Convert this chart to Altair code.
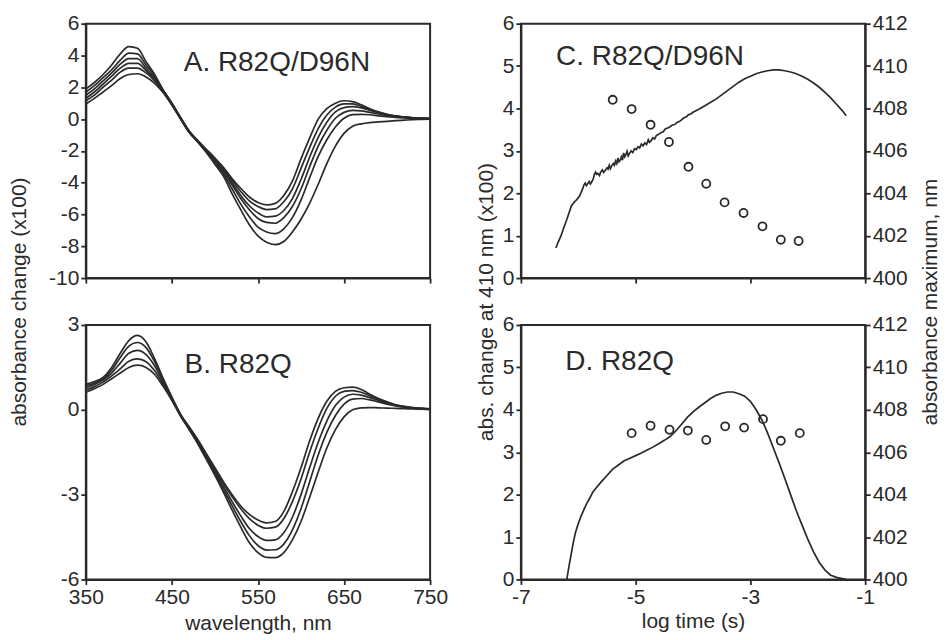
import altair as alt
import pandas as pd

FONT = "Liberation Sans"
INK = "#2a2a2a"

# ---------------- Panels A and B: difference spectra ----------------
wavelengths = [350, 360, 370, 380, 390, 400, 410, 420, 430, 440, 450, 460, 470, 480,
               490, 500, 510, 520, 530, 540, 550, 560, 570, 580, 590, 600, 610, 620,
               630, 640, 650, 660, 670, 680, 690, 700, 710, 720, 730, 740, 750]

spectra_A = [
    [1.9, 2.3, 2.8, 3.4, 4.1, 4.55, 4.45, 3.6, 2.8, 1.8, 1.0, 0.1, -0.75, -1.35, -1.9, -2.45, -3.05, -3.75, -4.35, -4.9, -5.25, -5.4, -5.3, -4.8, -3.9, -2.5, -1.2, 0.0, 0.65, 1.0, 1.15, 1.1, 0.9, 0.65, 0.45, 0.3, 0.2, 0.12, 0.08, 0.05, 0.03],
    [1.7, 2.1, 2.6, 3.1, 3.7, 4.15, 4.1, 3.4, 2.7, 1.8, 1.0, 0.1, -0.75, -1.35, -1.95, -2.5, -3.1, -3.85, -4.55, -5.15, -5.5, -5.7, -5.65, -5.2, -4.4, -3.1, -1.8, -0.6, 0.25, 0.75, 0.95, 0.95, 0.8, 0.6, 0.42, 0.28, 0.18, 0.12, 0.08, 0.05, 0.03],
    [1.5, 1.9, 2.4, 2.9, 3.45, 3.8, 3.8, 3.2, 2.6, 1.78, 0.95, 0.08, -0.78, -1.38, -2.0, -2.6, -3.2, -4.0, -4.8, -5.45, -5.9, -6.15, -6.1, -5.75, -5.0, -3.8, -2.4, -1.15, -0.2, 0.45, 0.72, 0.78, 0.7, 0.55, 0.4, 0.27, 0.18, 0.12, 0.08, 0.05, 0.03],
    [1.3, 1.7, 2.2, 2.7, 3.2, 3.5, 3.5, 3.05, 2.5, 1.75, 0.92, 0.05, -0.8, -1.4, -2.02, -2.65, -3.3, -4.15, -5.0, -5.7, -6.25, -6.5, -6.55, -6.2, -5.5, -4.4, -3.0, -1.7, -0.7, 0.05, 0.42, 0.55, 0.52, 0.42, 0.32, 0.22, 0.15, 0.1, 0.07, 0.04, 0.03],
    [1.15, 1.5, 2.0, 2.45, 2.95, 3.2, 3.2, 2.9, 2.4, 1.7, 0.9, 0.03, -0.82, -1.42, -2.05, -2.75, -3.45, -4.4, -5.35, -6.15, -6.8, -7.1, -7.2, -6.9, -6.2, -5.1, -3.7, -2.35, -1.3, -0.5, 0.05, 0.28, 0.3, 0.27, 0.2, 0.15, 0.1, 0.07, 0.05, 0.03, 0.02],
    [0.95, 1.3, 1.7, 2.1, 2.55, 2.8, 2.85, 2.65, 2.25, 1.65, 0.88, 0.0, -0.85, -1.45, -2.1, -2.85, -3.6, -4.7, -5.7, -6.65, -7.35, -7.75, -7.9, -7.7, -7.1, -6.3, -5.3, -4.1, -2.8, -1.7, -0.9, -0.45, -0.3, -0.22, -0.18, -0.14, -0.1, -0.07, -0.04, -0.02, 0.0],
]

spectra_B = [
    [0.9, 1.0, 1.15, 1.5, 2.0, 2.45, 2.63, 2.4, 1.8, 1.1, 0.45, -0.15, -0.6, -1.05, -1.55, -2.05, -2.55, -3.0, -3.4, -3.7, -3.9, -4.0, -3.95, -3.6, -2.9, -2.05, -1.1, -0.3, 0.3, 0.65, 0.78, 0.8, 0.72, 0.55, 0.4, 0.28, 0.18, 0.12, 0.08, 0.05, 0.03],
    [0.85, 0.95, 1.1, 1.4, 1.85, 2.25, 2.38, 2.2, 1.7, 1.05, 0.42, -0.17, -0.62, -1.08, -1.6, -2.1, -2.62, -3.08, -3.5, -3.85, -4.08, -4.19, -4.15, -3.85, -3.25, -2.45, -1.5, -0.65, 0.05, 0.48, 0.65, 0.68, 0.62, 0.5, 0.37, 0.26, 0.17, 0.11, 0.07, 0.05, 0.03],
    [0.78, 0.9, 1.05, 1.3, 1.65, 2.0, 2.1, 1.95, 1.55, 0.98, 0.4, -0.18, -0.65, -1.12, -1.65, -2.18, -2.72, -3.25, -3.75, -4.2, -4.48, -4.62, -4.6, -4.35, -3.8, -3.0, -2.05, -1.15, -0.4, 0.15, 0.45, 0.55, 0.52, 0.43, 0.33, 0.24, 0.16, 0.1, 0.07, 0.04, 0.03],
    [0.7, 0.82, 0.98, 1.2, 1.45, 1.72, 1.8, 1.7, 1.38, 0.9, 0.37, -0.2, -0.68, -1.16, -1.7, -2.25, -2.82, -3.4, -3.95, -4.45, -4.8, -4.96, -4.95, -4.75, -4.25, -3.5, -2.55, -1.6, -0.8, -0.2, 0.2, 0.38, 0.4, 0.35, 0.28, 0.2, 0.14, 0.09, 0.06, 0.04, 0.02],
    [0.62, 0.75, 0.9, 1.1, 1.3, 1.5, 1.58, 1.5, 1.25, 0.82, 0.33, -0.22, -0.7, -1.2, -1.75, -2.32, -2.92, -3.55, -4.15, -4.7, -5.05, -5.22, -5.23, -5.05, -4.6, -3.95, -3.1, -2.2, -1.35, -0.7, -0.25, 0.0, 0.07, 0.08, 0.07, 0.06, 0.05, 0.04, 0.03, 0.02, 0.01],
]

wl_ticks = [350, 450, 550, 650, 750]
a_ticks = [-10, -8, -6, -4, -2, 0, 2, 4, 6]
b_ticks = [-6, -3, 0, 3]

# ---------------- Panels C and D: kinetics ----------------
c_time = [-6.39, -6.35, -6.30, -6.25, -6.20, -6.15, -6.12, -6.09, -6.07, -6.04, -6.01,
          -5.98, -5.95, -5.92, -5.90, -5.88, -5.86, -5.84, -5.81, -5.79, -5.77, -5.74,
          -5.72, -5.70, -5.68, -5.66, -5.63, -5.61, -5.58, -5.56, -5.53, -5.50, -5.48,
          -5.46, -5.44, -5.42, -5.39, -5.37, -5.35, -5.33, -5.31, -5.29, -5.27, -5.25,
          -5.23, -5.21, -5.19, -5.17, -5.15, -5.13, -5.11, -5.08, -5.05, -5.02, -4.99,
          -4.96, -4.93, -4.90, -4.87, -4.84, -4.81, -4.78, -4.76, -4.73, -4.70, -4.67,
          -4.64, -4.60, -4.56, -4.52, -4.48, -4.44, -4.40, -4.36, -4.32, -4.28, -4.24,
          -4.20, -4.16, -4.12, -4.08, -4.04, -4.00, -3.9, -3.8, -3.7, -3.6, -3.5, -3.4,
          -3.3, -3.2, -3.1, -3.0, -2.9, -2.8, -2.7, -2.6, -2.5, -2.4, -2.3, -2.2, -2.1,
          -2.0, -1.9, -1.8, -1.7, -1.6, -1.5, -1.4, -1.33]
c_abs = [0.71, 0.85, 1.0, 1.2, 1.38, 1.58, 1.70, 1.76, 1.79, 1.83, 1.88,
         1.93, 2.02, 2.12, 2.20, 2.24, 2.18, 2.22, 2.28, 2.22, 2.26, 2.33,
         2.44, 2.50, 2.45, 2.47, 2.42, 2.50, 2.55, 2.49, 2.54, 2.60, 2.57,
         2.66, 2.58, 2.64, 2.70, 2.66, 2.76, 2.70, 2.83, 2.74, 2.78, 2.86,
         2.78, 2.95, 2.86, 2.91, 2.99, 2.88, 2.93, 3.00, 2.96, 3.05, 3.03,
         3.10, 3.07, 3.16, 3.12, 3.19, 3.15, 3.26, 3.20, 3.24, 3.31, 3.28,
         3.36, 3.39, 3.43, 3.45, 3.52, 3.54, 3.57, 3.61, 3.62, 3.67, 3.69,
         3.73, 3.78, 3.80, 3.85, 3.87, 3.91, 3.98, 4.06, 4.14, 4.22, 4.32, 4.42,
         4.52, 4.62, 4.70, 4.76, 4.82, 4.86, 4.89, 4.91, 4.91, 4.89, 4.86, 4.82, 4.76,
         4.69, 4.60, 4.50, 4.38, 4.25, 4.10, 3.95, 3.83]
c_pt_time = [-5.40, -5.07, -4.74, -4.42, -4.08, -3.77, -3.45, -3.12, -2.79, -2.47, -2.16]
c_pt_max = [408.41, 407.97, 407.23, 406.42, 405.25, 404.45, 403.57, 403.07, 402.44, 401.81, 401.75]

d_time = [-6.2, -6.17, -6.13, -6.09, -6.05, -6.0, -5.95, -5.9, -5.85, -5.8, -5.75, -5.7,
          -5.6, -5.5, -5.4, -5.3, -5.2, -5.1, -5.0, -4.9, -4.8, -4.7, -4.6, -4.5, -4.4,
          -4.3, -4.2, -4.1, -4.0, -3.9, -3.8, -3.7, -3.6, -3.5, -3.4, -3.3, -3.2, -3.1,
          -3.0, -2.9, -2.8, -2.7, -2.6, -2.5, -2.4, -2.3, -2.2, -2.1, -2.0, -1.9, -1.8,
          -1.7, -1.6, -1.5, -1.4, -1.33]
d_abs = [0.0, 0.25, 0.55, 0.85, 1.1, 1.32, 1.5, 1.65, 1.8, 1.92, 2.05, 2.14,
         2.3, 2.45, 2.6, 2.7, 2.8, 2.86, 2.92, 2.98, 3.05, 3.12, 3.2, 3.28, 3.37,
         3.5, 3.66, 3.82, 3.95, 4.06, 4.16, 4.26, 4.34, 4.39, 4.42, 4.42, 4.38, 4.32,
         4.2, 4.0, 3.76, 3.45, 3.1, 2.75, 2.38, 2.0, 1.62, 1.28, 0.95, 0.65, 0.4,
         0.22, 0.1, 0.05, 0.02, 0.0]
d_pt_time = [-5.07, -4.74, -4.41, -4.09, -3.77, -3.44, -3.11, -2.78, -2.47, -2.14]
d_pt_max = [406.90, 407.25, 407.06, 407.02, 406.58, 407.22, 407.16, 407.56, 406.54, 406.90]

t_ticks = [-7, -5, -3, -1]
abs_ticks = [0, 1, 2, 3, 4, 5, 6]
max_ticks = [400, 402, 404, 406, 408, 410, 412]

panel_labels = ["A. R82Q/D96N", "B. R82Q", "C. R82Q/D96N", "D. R82Q"]
label_x = [572, 527, -4.75, -5.28]
label_y = [3.5, 1.6, 5.22, 5.13]

W, H = 345, 255
LABEL_SIZE = 28
HYPHEN = "'' + datum.value"


def spectra_panel(curves, ydom, yticks, idx, bottom, ytitle):
    rows = []
    for i, c in enumerate(curves):
        for w, v in zip(wavelengths, c):
            rows.append({"wl": w, "v": v, "curve": i})
    df = pd.DataFrame(rows)
    xaxis_kw = dict(values=wl_ticks, labels=bottom, labelFlush=False, labelExpr=HYPHEN,
                    labelOverlap=False)
    if bottom:
        xaxis_kw.update(title="wavelength, nm", titlePadding=5)
    else:
        xaxis_kw.update(title=None)
    yaxis_kw = dict(values=yticks, labelExpr=HYPHEN, labelOverlap=False, labelSeparation=0)
    if ytitle:
        yaxis_kw.update(title=ytitle, titleX=-66, titleY=278.5, titleAngle=270,
                        titleBaseline="middle", titleAlign="center")
    else:
        yaxis_kw.update(title=None)
    xs = alt.Scale(domain=[350, 750], nice=False, zero=False)
    ys = alt.Scale(domain=ydom, nice=False, zero=False)
    lines = alt.Chart(df).mark_line(
        interpolate="monotone", color=INK, strokeWidth=1.7
    ).encode(
        x=alt.X("wl:Q", scale=xs, axis=alt.Axis(**xaxis_kw)),
        y=alt.Y("v:Q", scale=ys, axis=alt.Axis(**yaxis_kw)),
        detail="curve:N",
    )
    tdf = pd.DataFrame({"wl": [label_x[idx]], "v": [label_y[idx]], "t": [panel_labels[idx]]})
    text = alt.Chart(tdf).mark_text(
        font=FONT, fontSize=LABEL_SIZE, color=INK, align="center", baseline="middle"
    ).encode(
        x=alt.X("wl:Q", scale=xs, axis=alt.Axis(**xaxis_kw)),
        y=alt.Y("v:Q", scale=ys, axis=alt.Axis(**yaxis_kw)),
        text="t:N",
    )
    return alt.layer(lines, text).properties(width=W, height=H)


def kinetics_panel(t, a, pt, pm, idx, bottom, left_title, right_title):
    ldf = pd.DataFrame({"t": t, "a": a})
    pdf = pd.DataFrame({"t": pt, "m": pm})
    xs = alt.Scale(domain=[-7, -1], nice=False, zero=False)
    ys = alt.Scale(domain=[0, 6], nice=False, zero=False)
    ms = alt.Scale(domain=[400, 412], nice=False, zero=False)
    xaxis_kw = dict(values=t_ticks, labels=bottom, labelFlush=False, labelExpr=HYPHEN,
                    labelOverlap=False)
    if bottom:
        xaxis_kw.update(title="log time (s)", titlePadding=3)
    else:
        xaxis_kw.update(title=None)
    laxis = dict(values=abs_ticks, labelExpr=HYPHEN, labelOverlap=False)
    if left_title:
        laxis.update(title=left_title, titleX=-34, titleY=278.5, titleAngle=270,
                     titleBaseline="middle", titleAlign="center")
    else:
        laxis.update(title=None)
    raxis = dict(values=max_ticks, orient="right", labelExpr=HYPHEN, labelOverlap=False)
    if right_title:
        raxis.update(title=right_title, titleX=65, titleY=278.5, titleAngle=270,
                     titleBaseline="middle", titleAlign="center")
    else:
        raxis.update(title=None)
    line = alt.Chart(ldf).mark_line(color=INK, strokeWidth=1.7).encode(
        x=alt.X("t:Q", scale=xs, axis=alt.Axis(**xaxis_kw)),
        y=alt.Y("a:Q", scale=ys, axis=alt.Axis(**laxis)),
    )
    tdf = pd.DataFrame({"t": [label_x[idx]], "a": [label_y[idx]], "s": [panel_labels[idx]]})
    text = alt.Chart(tdf).mark_text(
        font=FONT, fontSize=LABEL_SIZE, color=INK, align="center", baseline="middle"
    ).encode(
        x=alt.X("t:Q", scale=xs, axis=alt.Axis(**xaxis_kw)),
        y=alt.Y("a:Q", scale=ys, axis=alt.Axis(**laxis)),
        text="s:N",
    )
    left = alt.layer(line, text)
    pts = alt.Chart(pdf).mark_point(
        shape="circle", filled=False, size=65, strokeWidth=1.8, color=INK, opacity=1
    ).encode(
        x=alt.X("t:Q", scale=xs, axis=alt.Axis(**xaxis_kw)),
        y=alt.Y("m:Q", scale=ms, axis=alt.Axis(**raxis)),
    )
    return alt.layer(left, pts).resolve_scale(y="independent").properties(width=W, height=H)


pA = spectra_panel(spectra_A, [-10, 6], a_ticks, 0, False, "absorbance  change (x100)")
pB = spectra_panel(spectra_B, [-6, 3], b_ticks, 1, True, None)
pC = kinetics_panel(c_time, c_abs, c_pt_time, c_pt_max, 2, False,
                    "abs. change at 410 nm (x100)", "absorbance maximum, nm")
pD = kinetics_panel(d_time, d_abs, d_pt_time, d_pt_max, 3, True, None, None)

chart = alt.concat(
    pA, pC, pB, pD, columns=2,
    spacing={"row": 47, "column": 91}, bounds="flush",
).properties(
    padding={"left": 0, "top": 3, "right": 2, "bottom": 0},
    background="white",
).configure_view(
    stroke=INK, strokeWidth=2
).configure_axis(
    grid=False,
    domainColor=INK, domainWidth=2,
    tickColor=INK, tickWidth=1.8, tickSize=5,
    labelFont=FONT, labelFontSize=21, labelColor=INK, labelPadding=2,
    labelOverlap=False,
    titleFont=FONT, titleFontSize=21, titleColor=INK, titleFontWeight="normal",
)

chart.save("out.html", embed_options={"renderer": "svg", "actions": False})
